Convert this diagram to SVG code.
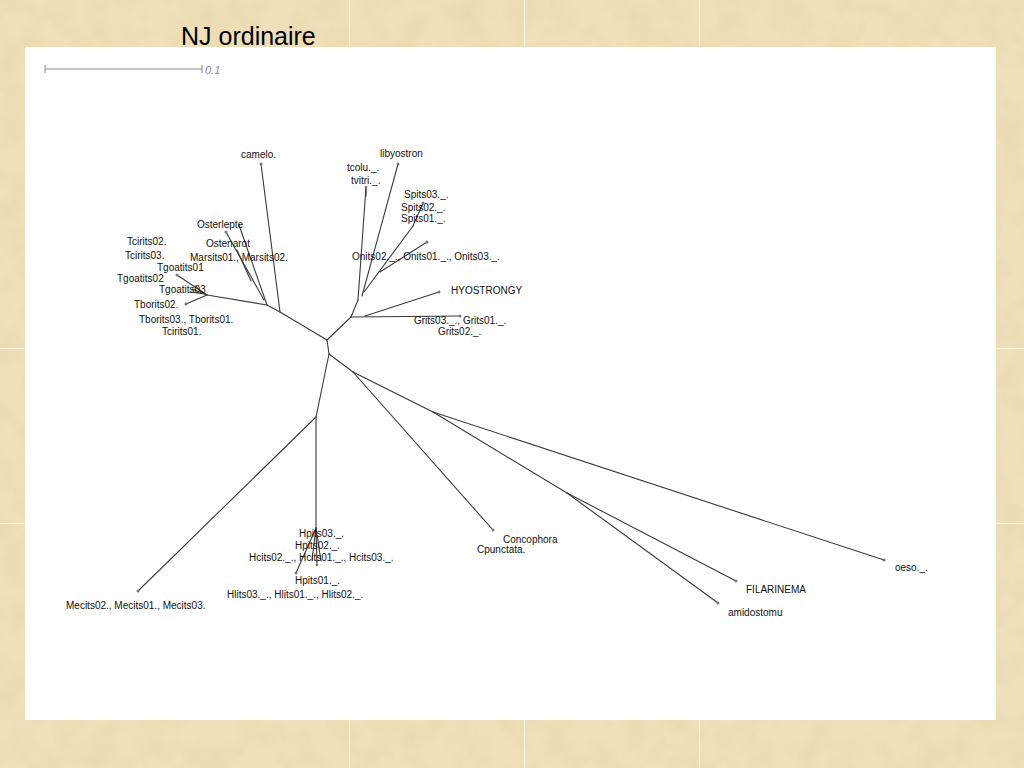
<svg xmlns="http://www.w3.org/2000/svg" width="1024" height="768" viewBox="0 0 1024 768">
<defs>
<filter id="paper" x="0" y="0" width="100%" height="100%">
<feTurbulence type="fractalNoise" baseFrequency="0.035" numOctaves="4" seed="7" result="n"/>
<feColorMatrix in="n" type="matrix" values="0 0 0 0 0.78  0 0 0 0 0.63  0 0 0 0 0.38  1.6 0 0 0 -0.62"/>
</filter>
<style>
.lbl{font-family:"Liberation Sans",Arial,sans-serif;font-size:10px;fill:#111}
.br{stroke:#3a3a3a;stroke-width:1.1;fill:none;stroke-linecap:round}
.tip{fill:#777}
.seam{stroke:#fbf4e2;stroke-width:1}
</style>
</defs>
<g id="background">
<rect x="0" y="0" width="1024" height="768" fill="#efe0b9"/>
<rect x="0" y="0" width="1024" height="768" filter="url(#paper)" opacity="0.55"/>
<line class="seam" x1="349.5" y1="0" x2="349.5" y2="768"/>
<line class="seam" x1="524.5" y1="0" x2="524.5" y2="768"/>
<line class="seam" x1="699.5" y1="0" x2="699.5" y2="768"/>
<line class="seam" x1="0" y1="348.5" x2="1024" y2="348.5"/>
<line class="seam" x1="0" y1="523.5" x2="1024" y2="523.5"/>
<rect x="25" y="47" width="971" height="673" fill="#ffffff"/>
</g>
<text id="title" x="181" y="45" font-family="Liberation Sans, Arial, sans-serif" font-size="25" fill="#000">NJ ordinaire</text>
<g id="scale">
<line x1="45" y1="69" x2="202" y2="69" stroke="#8a8a8a" stroke-width="1.2"/>
<line x1="45" y1="65" x2="45" y2="73" stroke="#8a8a8a" stroke-width="1"/>
<line x1="202" y1="65" x2="202" y2="73" stroke="#8a8a8a" stroke-width="1"/>
<text x="205" y="74" font-family="Liberation Sans, Arial, sans-serif" font-size="11" font-style="italic" fill="#8a8a8a">0.1</text>
</g>
<g id="connectors">
<line class="br" x1="327" y1="340" x2="280" y2="312"/>
<line class="br" x1="280" y1="312" x2="261" y2="164"/>
<line class="br" x1="280" y1="312" x2="267" y2="305"/>
<line class="br" x1="267" y1="305" x2="239" y2="225"/>
<line class="br" x1="264" y1="300" x2="226" y2="232"/>
<line class="br" x1="251" y1="281" x2="237" y2="250"/>
<line class="br" x1="267" y1="305" x2="207" y2="295"/>
<line class="br" x1="207" y1="295" x2="177" y2="275"/>
<line class="br" x1="207" y1="295" x2="186" y2="304"/>
<line class="br" x1="207" y1="295" x2="192" y2="289"/>
<line class="br" x1="205" y1="294" x2="190" y2="292"/>
<line class="br" x1="203" y1="293" x2="195" y2="286"/>
<line class="br" x1="327" y1="340" x2="351" y2="317"/>
<line class="br" x1="351" y1="317" x2="460" y2="316"/>
<line class="br" x1="365" y1="316" x2="439" y2="292"/>
<line class="br" x1="351" y1="317" x2="358" y2="300"/>
<line class="br" x1="358" y1="300" x2="366" y2="187"/>
<line class="br" x1="366" y1="187" x2="366" y2="196"/>
<line class="br" x1="362" y1="296" x2="398" y2="164"/>
<line class="br" x1="364" y1="292" x2="413" y2="226"/>
<line class="br" x1="413" y1="226" x2="423" y2="203"/>
<line class="br" x1="380" y1="272" x2="427" y2="242"/>
<line class="br" x1="327" y1="340" x2="329" y2="354"/>
<line class="br" x1="329" y1="354" x2="316" y2="417"/>
<line class="br" x1="316" y1="417" x2="138" y2="591"/>
<line class="br" x1="316" y1="417" x2="316" y2="528"/>
<line class="br" x1="316" y1="528" x2="296" y2="573"/>
<line class="br" x1="316" y1="528" x2="317" y2="565"/>
<line class="br" x1="316" y1="528" x2="321" y2="561"/>
<line class="br" x1="316" y1="528" x2="312" y2="560"/>
<line class="br" x1="329" y1="354" x2="353" y2="372"/>
<line class="br" x1="353" y1="372" x2="493" y2="530"/>
<line class="br" x1="353" y1="372" x2="433" y2="412"/>
<line class="br" x1="433" y1="412" x2="884" y2="560"/>
<line class="br" x1="433" y1="412" x2="567" y2="493"/>
<line class="br" x1="567" y1="493" x2="736" y2="581"/>
<line class="br" x1="567" y1="493" x2="718" y2="603"/>
</g>
<g id="n-camelo"><circle class="tip" cx="261" cy="164" r="1.5"/><text class="lbl" x="241" y="158">camelo.</text></g>
<g id="n-osterlepte"><circle class="tip" cx="226" cy="232" r="1.5"/><text class="lbl" x="197" y="228">Osterlepte</text></g>
<g id="n-ostenarot"><text class="lbl" x="206" y="247">Ostenarot</text></g>
<g id="n-marsits"><text class="lbl" x="190" y="261">Marsits01., Marsits02.</text></g>
<g id="n-tcirits02"><text class="lbl" x="127" y="245">Tcirits02.</text></g>
<g id="n-tcirits03"><text class="lbl" x="125" y="259">Tcirits03.</text></g>
<g id="n-tgoatits01"><text class="lbl" x="157" y="271">Tgoatits01</text></g>
<g id="n-tgoatits02"><circle class="tip" cx="177" cy="275" r="1.5"/><text class="lbl" x="117" y="282">Tgoatits02</text></g>
<g id="n-tgoatits03"><text class="lbl" x="159" y="293">Tgoatits03</text></g>
<g id="n-tborits02"><circle class="tip" cx="186" cy="304" r="1.5"/><text class="lbl" x="134" y="308">Tborits02.</text></g>
<g id="n-tborits"><text class="lbl" x="139" y="323">Tborits03., Tborits01.</text></g>
<g id="n-tcirits01"><text class="lbl" x="162" y="335">Tcirits01.</text></g>
<g id="n-libyostron"><circle class="tip" cx="398" cy="164" r="1.5"/><text class="lbl" x="380" y="157">libyostron</text></g>
<g id="n-tcolu"><text class="lbl" x="347" y="171">tcolu._.</text></g>
<g id="n-tvitri"><circle class="tip" cx="366" cy="187" r="1.3"/><text class="lbl" x="351" y="184">tvitri._.</text></g>
<g id="n-spits03"><circle class="tip" cx="423" cy="203" r="1.5"/><text class="lbl" x="404" y="198">Spits03._.</text></g>
<g id="n-spits02"><text class="lbl" x="401" y="211">Spits02._.</text></g>
<g id="n-spits01"><text class="lbl" x="401" y="222">Spits01._.</text></g>
<g id="n-onits"><circle class="tip" cx="427" cy="242" r="1.5"/><text class="lbl" x="352" y="260">Onits02._., Onits01._., Onits03._.</text></g>
<g id="n-hyostrongy"><circle class="tip" cx="439" cy="292" r="1.5"/><text class="lbl" x="451" y="294">HYOSTRONGY</text></g>
<g id="n-grits"><circle class="tip" cx="460" cy="316" r="1.5"/><text class="lbl" x="414" y="324">Grits03._., Grits01._.</text></g>
<g id="n-grits02"><text class="lbl" x="438" y="335">Grits02._.</text></g>
<g id="n-concophora"><circle class="tip" cx="493" cy="530" r="1.5"/><text class="lbl" x="503" y="543">Concophora</text></g>
<g id="n-cpunctata"><text class="lbl" x="477" y="553">Cpunctata.</text></g>
<g id="n-oeso"><circle class="tip" cx="884" cy="560" r="1.5"/><text class="lbl" x="895" y="571">oeso._.</text></g>
<g id="n-filarinema"><circle class="tip" cx="736" cy="581" r="1.5"/><text class="lbl" x="746" y="593">FILARINEMA</text></g>
<g id="n-amidostomu"><circle class="tip" cx="718" cy="603" r="1.5"/><text class="lbl" x="728" y="616">amidostomu</text></g>
<g id="n-hpits03"><text class="lbl" x="299" y="537">Hpits03._.</text></g>
<g id="n-hpits02"><text class="lbl" x="295" y="549">Hpits02._.</text></g>
<g id="n-hcits"><circle class="tip" cx="317" cy="565" r="1.3"/><text class="lbl" x="249" y="561">Hcits02._., Hcits01._., Hcits03._.</text></g>
<g id="n-hpits01"><circle class="tip" cx="296" cy="573" r="1.5"/><text class="lbl" x="295" y="584">Hpits01._.</text></g>
<g id="n-hlits"><text class="lbl" x="227" y="598">Hlits03._., Hlits01._., Hlits02._.</text></g>
<g id="n-mecits"><circle class="tip" cx="138" cy="591" r="1.5"/><text class="lbl" x="66" y="609">Mecits02., Mecits01., Mecits03.</text></g>
</svg>
